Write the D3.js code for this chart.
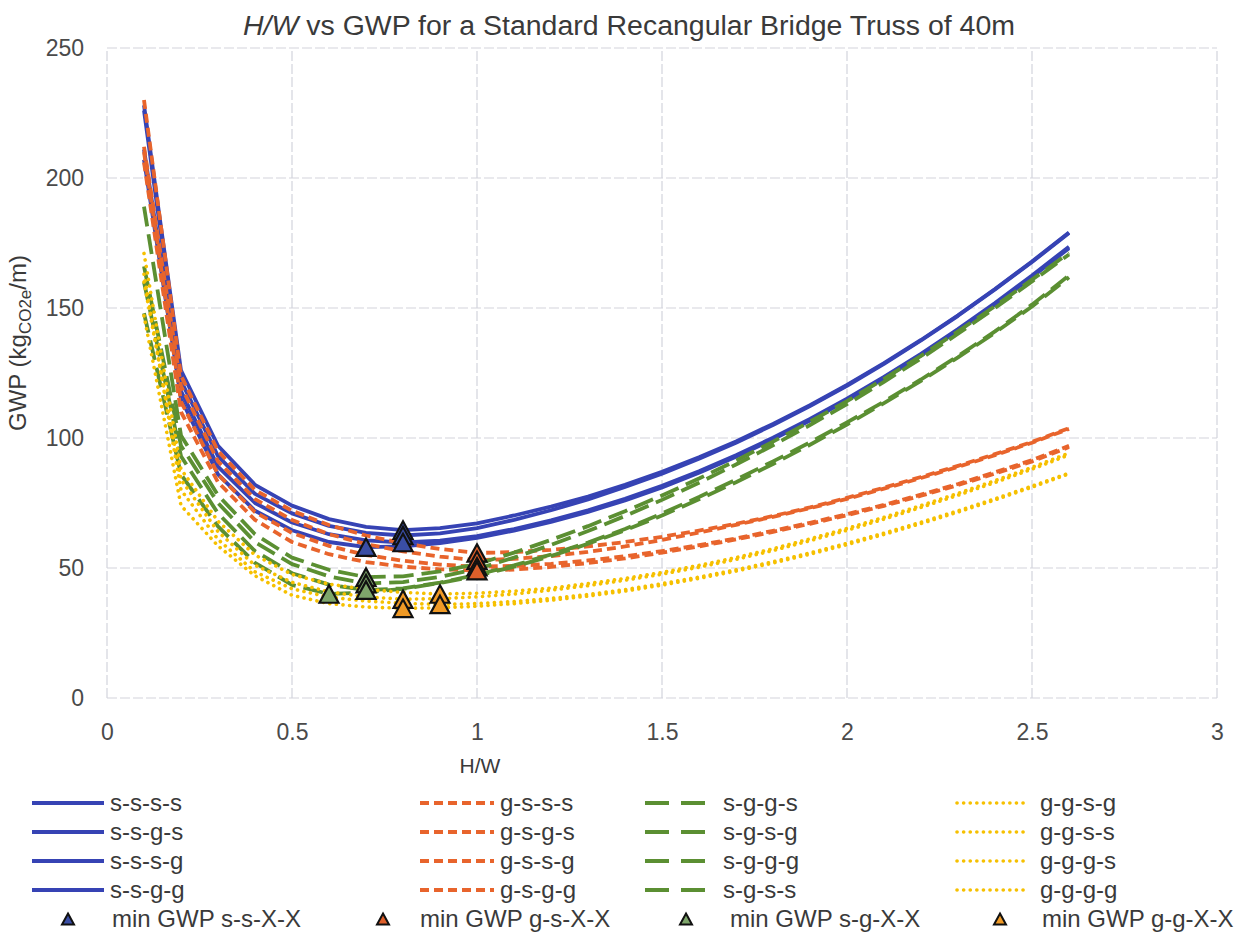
<!DOCTYPE html>
<html><head><meta charset="utf-8">
<script src="https://cdn.jsdelivr.net/npm/d3@7"></script>
<style>
body{margin:0;background:#fff;}
svg{display:block;font-family:"Liberation Sans",Arial,sans-serif;}
</style>
</head><body>
<svg id="chart" width="1242" height="947"></svg>
<script>
// ---- data ----
const hw = [0.1,0.2,0.3,0.4,0.5,0.6,0.7,0.8,0.9,1.0,1.1,1.2,1.3,1.4,1.5,1.6,1.7,1.8,1.9,2.0,2.1,2.2,2.3,2.4,2.5,2.6];

// s-s-X-X (blue, solid)
const s_s_s_s = [228,126,97,82,74,68.8,65.8,64.6,65.3,67.2,70.2,73.6,77.5,82,87,92.6,98.7,105.4,112.6,120.4,128.8,137.7,147.2,157.3,167.9,179];
const s_s_g_s = [226,122,93,78.5,71,66.2,63.5,62.5,63.3,65.3,68.5,72.2,76.4,81.2,86.3,92,98.2,105,112.3,120.1,128.5,137.5,147,157.1,167.7,178.8];
const s_s_s_g = [211,118,89,75,67.5,63,60.6,59.8,60.5,62.3,65,68.3,72.2,76.6,81.6,87.2,93.4,100.1,107.3,115.1,123.5,132.4,141.9,151.9,162.5,173.6];
const s_s_g_g = [207,115,86,72,64.5,60,58,58.3,59.6,61.6,64.4,67.7,71.6,76,81,86.6,92.8,99.5,106.7,114.5,122.9,131.8,141.3,151.3,161.9,173];

// g-s-X-X (orange, dashed)
const g_s_s_s = [230,124,95,80,72,66.5,62.5,59.5,57.3,55.8,56.1,57,58.3,60,62,64.4,67,70,73.3,77,80.9,85,89.3,93.8,98.5,103.8];
const g_s_g_s = [212,120,91,76.5,68.5,63,59.2,56.4,54.4,53,53.5,54.6,56.2,58.3,60.8,63.6,66.6,69.7,73,76.6,80.5,84.6,88.9,93.4,98.2,103.5];
const g_s_s_g = [210,114,86,71.5,63.5,58.5,55,52.8,51.3,50.5,50.8,51.6,52.9,54.5,56.5,58.8,61.4,64.3,67.4,70.7,74.3,78.2,82.3,86.8,91.5,97];
const g_s_g_g = [206,110,83,68.5,60,55.3,52.3,50.5,49.5,49,49.4,50.4,51.9,53.7,55.9,58.3,61,63.9,67,70.3,73.9,77.8,81.9,86.3,91,96.5];

// s-g-X-X (green, long dash)
const s_g_g_s = [189,101,78,63,54,49.3,46.5,46.8,48.7,51.5,55.9,60.8,66.1,71.8,77.9,84.4,91.3,98.6,106.3,114.2,122.7,131.6,141,150.7,160.9,171.2];
const s_g_s_g = [166,97,75,60,51.5,46.8,44,44.6,46.6,49.6,54,58.9,64.2,70,76.2,82.8,89.8,97.2,105,113,121.6,130.6,140.1,150,160.2,170.6];
const s_g_g_g = [160,93,71,56.5,48,43.6,41.5,42.2,44.4,47.4,51,55.2,59.8,65,71,77.3,84,91,98.3,106,114,122.5,131.5,141,151.3,162.5];
const s_g_s_s = [148,86,66,52,43.5,40,40.6,42,44.2,47,50.5,54.6,59.3,64.5,70.2,76.4,83,90,97.4,105.2,113.4,122,131,140.5,150.6,161.8];

// g-g-X-X (yellow, dotted)
const g_g_s_g = [171,88,68,55,47.5,43.8,41.8,40.6,40,40.3,41.1,42.3,44,46,48.3,51,54,57.4,61.2,65.2,69.5,74,78.7,83.6,88.7,94.2];
const g_g_s_s = [160,84,64,51,44.5,40.8,38.9,38,38.2,38.9,40,41.5,43.2,45.3,47.6,50.3,53.3,56.7,60.5,64.5,68.8,73.3,78,82.9,88,93.5];
const g_g_g_s = [163,80,61,48.5,42,38.8,37.3,36.4,36,36.3,37.1,38.3,39.8,41.7,44,46.5,49.3,52.4,55.8,59.5,63.4,67.6,72,76.6,81.5,86.5];
const g_g_g_g = [147,74,58.5,47,39.5,36.3,35,34.5,34.7,35.3,36.3,37.6,39.2,41.1,43.4,46,48.8,51.9,55.3,59,62.9,67.1,71.5,76.2,81.1,86.2];

const xTicks = [0,0.5,1,1.5,2,2.5,3];
const yTicks = [0,50,100,150,200,250];

const groupNames = ["s-s-X-X","g-s-X-X","s-g-X-X","g-g-X-X"];
const groupSeries = [
  [["s-s-s-s",s_s_s_s],["s-s-g-s",s_s_g_s],["s-s-s-g",s_s_s_g],["s-s-g-g",s_s_g_g]],
  [["g-s-s-s",g_s_s_s],["g-s-g-s",g_s_g_s],["g-s-s-g",g_s_s_g],["g-s-g-g",g_s_g_g]],
  [["s-g-g-s",s_g_g_s],["s-g-s-g",s_g_s_g],["s-g-g-g",s_g_g_g],["s-g-s-s",s_g_s_s]],
  [["g-g-s-g",g_g_s_g],["g-g-s-s",g_g_s_s],["g-g-g-s",g_g_g_s],["g-g-g-g",g_g_g_g]]
];

// ---- styles ----
const styles = [
  {color:"#3643b4", width:3.8, dash:null, cap:"butt", marker:"#3a4ea6"},
  {color:"#e8642c", width:3.8, dash:"9,5", cap:"butt", marker:"#de5f2a"},
  {color:"#5b8f32", width:3.8, dash:"20,8", cap:"butt", marker:"#7ea66b"},
  {color:"#f6c000", width:3.6, dash:"0.1,6.5", cap:"round", marker:"#f09a26"}
];

const svg = d3.select("#chart");
const x = d3.scaleLinear().domain([0,3]).range([107,1217]);
const y = d3.scaleLinear().domain([0,250]).range([698,48]);

// grid
const grid = svg.append("g");
grid.selectAll("line.h").data(yTicks).join("line")
  .attr("x1",x(0)).attr("x2",x(3)).attr("y1",d=>y(d)).attr("y2",d=>y(d))
  .attr("stroke","#d3d4dc").attr("stroke-width",1.2).attr("stroke-dasharray","10,3");
grid.selectAll("line.v").data(xTicks).join("line")
  .attr("y1",y(0)).attr("y2",y(250)).attr("x1",d=>x(d)).attr("x2",d=>x(d))
  .attr("stroke","#d3d4dc").attr("stroke-width",1.2).attr("stroke-dasharray","10,3");

// axes
const xAxis = svg.append("g").attr("transform",`translate(0,${y(0)})`)
  .call(d3.axisBottom(x).tickValues(xTicks).tickSize(0).tickPadding(26).tickFormat(d=>d));
const yAxis = svg.append("g").attr("transform",`translate(${x(0)},0)`)
  .call(d3.axisLeft(y).tickValues(yTicks).tickSize(0).tickPadding(23));
[xAxis,yAxis].forEach(a=>{
  a.select(".domain").remove();
  a.selectAll("text").attr("font-size",23).attr("fill","#4a4a4a").attr("font-family","Liberation Sans, Arial, sans-serif");
});

// lines
const line = d3.line().x((d,i)=>x(hw[i])).y(d=>y(d)).curve(d3.curveLinear);
const plot = svg.append("g");
groupSeries.forEach((grp,gi)=>{
  const st = styles[gi];
  grp.forEach(([name,vals])=>{
    plot.append("path").datum(vals).attr("d",line)
      .attr("fill","none").attr("stroke",st.color).attr("stroke-width",st.width)
      .attr("stroke-dasharray",st.dash).attr("stroke-linecap",st.cap).attr("stroke-linejoin","round");
  });
});

// minimum markers
function tri(s){const h=s*0.92;return `M0,${-h/2}L${s/2},${h/2}L${-s/2},${h/2}Z`;}
groupSeries.forEach((grp,gi)=>{
  const st = styles[gi];
  grp.forEach(([name,vals])=>{
    const i = d3.minIndex(vals);
    plot.append("path").attr("d",tri(19))
      .attr("transform",`translate(${x(hw[i])},${y(vals[i])})`)
      .attr("fill",st.marker).attr("stroke","#111").attr("stroke-width",2.2).attr("stroke-linejoin","miter");
  });
});

// title
const title = svg.append("text").attr("x",629).attr("y",35).attr("text-anchor","middle")
  .attr("font-size",27).attr("fill","#3a3a3a")
  .attr("textLength",772).attr("lengthAdjust","spacingAndGlyphs");
title.append("tspan").attr("font-style","italic").text("H/W");
title.append("tspan").text(" vs GWP for a Standard Recangular Bridge Truss of 40m");

// axis titles
svg.append("text").attr("x",480).attr("y",773).attr("text-anchor","middle")
  .attr("font-size",21).attr("fill","#3a3a3a").text("H/W");
const yl = svg.append("text").attr("transform","translate(26,343) rotate(-90)").attr("text-anchor","middle")
  .attr("font-size",24).attr("fill","#3a3a3a");
yl.append("tspan").text("GWP (kg");
yl.append("tspan").attr("font-size",17).attr("dy",5).text("CO2e");
yl.append("tspan").attr("dy",-5).text("/m)");

// legend
const legCols = [
  {x0:32, x1:104, tx:110, mx:68, mtx:112},
  {x0:420, x1:494, tx:500, mx:383, mtx:420},
  {x0:645, x1:717, tx:723, mx:686, mtx:730},
  {x0:957, x1:1024, tx:1040, mx:1000, mtx:1042}
];
const legRows = [803,832,861,890];
const legMarkerRow = 919;
const leg = svg.append("g");
groupSeries.forEach((grp,gi)=>{
  const st = styles[gi], c = legCols[gi];
  grp.forEach(([name],ri)=>{
    const yy = legRows[ri];
    leg.append("line").attr("x1",c.x0).attr("x2",c.x1).attr("y1",yy).attr("y2",yy)
      .attr("stroke",st.color).attr("stroke-width",st.width)
      .attr("stroke-dasharray",gi===2?"24,12":st.dash).attr("stroke-linecap",st.cap);
    leg.append("text").attr("x",c.tx).attr("y",yy+8).attr("font-size",24).attr("fill","#3a3a3a").text(name);
  });
  leg.append("path").attr("d",tri(12)).attr("transform",`translate(${c.mx},${legMarkerRow})`)
    .attr("fill",st.marker).attr("stroke","#111").attr("stroke-width",2);
  leg.append("text").attr("x",c.mtx).attr("y",legMarkerRow+8).attr("font-size",24).attr("fill","#3a3a3a")
    .text("min GWP "+groupNames[gi]);
});
</script>
</body></html>
